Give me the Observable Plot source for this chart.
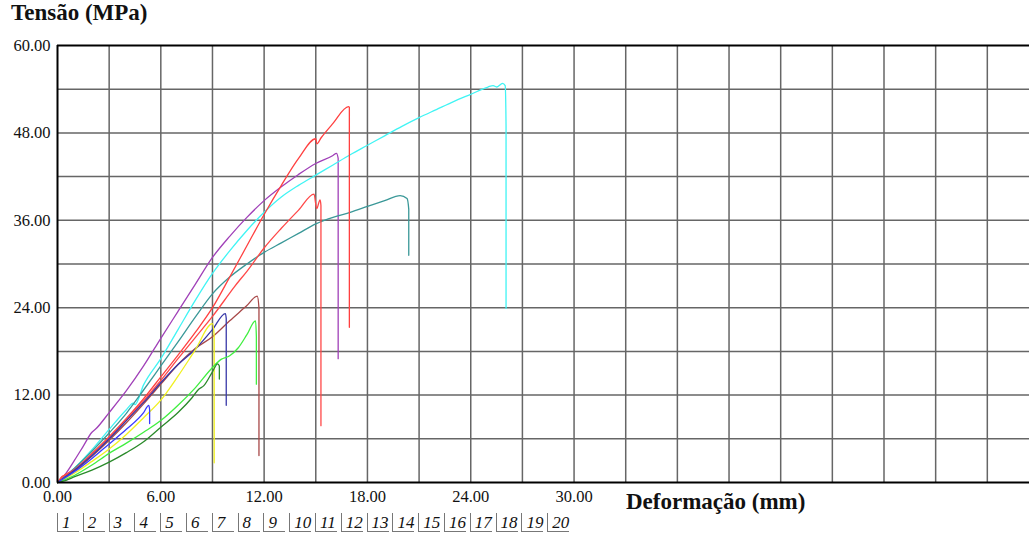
<!DOCTYPE html>
<html><head><meta charset="utf-8">
<script src="https://cdn.jsdelivr.net/npm/d3@7"></script>
<script src="https://cdn.jsdelivr.net/npm/@observablehq/plot@0.6"></script>
<style>
html,body{margin:0;padding:0;background:#fff;overflow:hidden;}
#wrap{position:relative;width:1029px;height:533px;font-family:"Liberation Serif","Times New Roman",serif;color:#111;}
#title{position:absolute;left:11px;top:0px;font-weight:bold;font-size:23px;white-space:nowrap;}
#xlabel{position:absolute;left:626px;top:489px;font-weight:bold;font-size:23px;white-space:nowrap;}
#legend{position:absolute;left:57px;top:513px;height:20px;}
.item{position:absolute;top:0;width:22px;height:19px;border-left:1px solid #777;border-bottom:1px solid #777;font-style:italic;font-size:17px;line-height:19px;padding-left:4px;box-sizing:border-box;}
svg{position:absolute;left:0;top:0;}
</style></head>
<body>
<div id="wrap">
  <div id="title">Tensão (MPa)</div>
  <div id="xlabel">Deformação (mm)</div>
  <div id="legend"></div>
</div>
<script>
// Tick values
const xTicks = [0, 6, 12, 18, 24, 30];
const yTicks = [0, 12, 24, 36, 48, 60];
const xGrid = d3.range(3, 57, 3);
const yGrid = d3.range(6, 60, 6);
const legendLabels = ["1","2","3","4","5","6","7","8","9","10","11","12","13","14","15","16","17","18","19","20"];

// Series (deformation mm, stress MPa)
const seriesNames = ["purple","cyan","teal","redA","redB","brown","navy","yellow","lightgreen","darkgreen","blue"];
const seriesColors = ["#a040b8","#40f4f4","#3a9898","#ff4040","#ff4848","#a84848","#3838a8","#f0f020","#40ee40","#2a8a2a","#3a3aff"];

const purple = [[0,0],[0.5,1.3],[1,3.1],[1.5,5],[2,6.9],[2.2,7.3],[3,9.6],[4,12.6],[5,16],[6,19.8],[7,23.5],[8,27.2],[9,30.9],[10,33.8],[11,36.4],[12,38.7],[13,40.6],[14,42.3],[15,43.8],[16,44.9],[16.2,45.2],[16.3,44.5],[16.3,17]];
const cyan = [[0,0],[1,2],[2,4.5],[3,7.3],[4,10],[4.4,10.9],[4.5,10.7],[5,13.4],[6,17],[7,21],[8,25],[9,28.7],[10,31.8],[11,34.6],[12,37.1],[13,39.2],[14,40.8],[15,42.2],[16,43.6],[17,45],[18,46.3],[19,47.6],[20,48.9],[21,50.1],[22,51.2],[23,52.3],[24,53.3],[25,54.3],[25.3,54.5],[25.5,54.3],[25.85,54.8],[26,54.5],[26.05,49],[26.05,23.9]];
const teal = [[0,0],[1,2],[2,4.3],[3,6.8],[4,9.5],[5,12.7],[6,16],[7,19.3],[8,22.7],[9,25.9],[10,28.2],[11,30],[12,31.6],[13,32.9],[14,34.2],[15,35.5],[16,36.4],[17,37.1],[18,37.9],[19,38.7],[19.9,39.4],[20.3,39],[20.4,37.5],[20.4,31.2]];
const redA = [[0,0],[0.3,0.9],[0.6,1.1],[1,1.8],[2,4],[3,6.3],[4,8.8],[5,11.5],[6,14.5],[7,17.5],[8,20.6],[9,24],[10,28.2],[11,32.5],[12,36.8],[13,40.8],[14,44.5],[15,47.2],[15.06,46.5],[15.3,47.3],[16,49.3],[16.9,51.6],[16.95,51.5],[16.95,21.3]];
const redB = [[0,0],[0.3,0.8],[1,1.8],[2,3.9],[3,6.2],[4,8.6],[5,11.2],[6,14],[7,17],[8,19.9],[9,22.8],[10,26],[10.25,26.8],[11,29],[12,32.2],[13,34.9],[14,37.4],[14.9,39.6],[15.05,37.6],[15.25,38.8],[15.3,38],[15.3,7.8]];
const brown = [[0,0],[1,1.6],[2,3.6],[3,5.8],[4,8.2],[5,10.8],[6,13.5],[7,16.2],[8,18.4],[9,20],[10,22.2],[11,24.3],[11.6,25.6],[11.7,24],[11.7,3.7]];
const navy = [[0,0],[1,1.7],[2,3.7],[3,6],[4,8.5],[5,11],[6,13.7],[7,16.2],[8,18.3],[9,21],[9.75,23.2],[9.8,22.5],[9.8,10.6]];
const yellow = [[0,0],[1,1.3],[2,2.9],[3,4.6],[4,6.6],[5,8.9],[6,11.3],[7,14.6],[8,18.2],[9,21.8],[9.1,20.2],[9.1,2.7]];
const lightgreen = [[0,0],[1,1],[2,2.4],[3,4],[4,5.4],[5,6.9],[6,8.5],[7,10.6],[8,13],[9,15.8],[9.5,16.9],[10,17.4],[10.5,18.5],[11,20.3],[11.5,22.2],[11.55,20],[11.55,13.5]];
const darkgreen = [[0,0],[0.5,0.3],[1,0.8],[2,1.7],[3,2.8],[4,4.1],[5,5.6],[6,7.6],[7,9.6],[7.8,11.6],[8.2,12.8],[8.5,13.3],[9,15.2],[9.3,16.3],[9.4,16],[9.4,14.2]];
const blue = [[0,0],[1,1.5],[2,3.3],[3,5.3],[4,7.3],[5,9.6],[5.3,10.6],[5.35,10],[5.35,8.1]];

const seriesData = [purple,cyan,teal,redA,redB,brown,navy,yellow,lightgreen,darkgreen,blue];
const data = seriesData.flatMap((pts, i) => pts.map(([x, y]) => ({s: seriesNames[i], x, y})));

const fmt = d3.format(".2f");
const chart = Plot.plot({
  width: 1029, height: 533,
  marginTop: 45, marginLeft: 57, marginRight: 0, marginBottom: 51,
  style: {fontFamily: "Liberation Serif, Times New Roman, serif", fontSize: "16px", background: "transparent", color: "#111"},
  x: {domain: [0, 56.45]},
  y: {domain: [0, 60]},
  color: {domain: seriesNames, range: seriesColors},
  marks: [
    Plot.ruleX(xGrid, {stroke: "#666", strokeWidth: 1.5}),
    Plot.ruleY(yGrid, {stroke: "#666", strokeWidth: 1.5}),
    Plot.line(data, {x: "x", y: "y", z: "s", stroke: "s", strokeWidth: 1.3, curve: "monotone-x"}),
    Plot.ruleY([0, 60], {stroke: "#000", strokeWidth: 2}),
    Plot.ruleX([0], {stroke: "#000", strokeWidth: 2}),
    Plot.axisX(xTicks, {tickSize: 0, tickPadding: 8, tickFormat: fmt, fontSize: 16.5, label: null}),
    Plot.axisY(yTicks, {tickSize: 0, tickPadding: 7, tickFormat: fmt, fontSize: 16.5, label: null})
  ]
});
const wrap = document.getElementById("wrap");
wrap.insertBefore(chart, wrap.firstChild);

const legend = document.getElementById("legend");
legendLabels.forEach((t, i) => {
  const d = document.createElement("div");
  d.className = "item";
  d.style.left = (i * 25.8) + "px";
  d.textContent = t;
  legend.appendChild(d);
});
</script>
</body></html>
